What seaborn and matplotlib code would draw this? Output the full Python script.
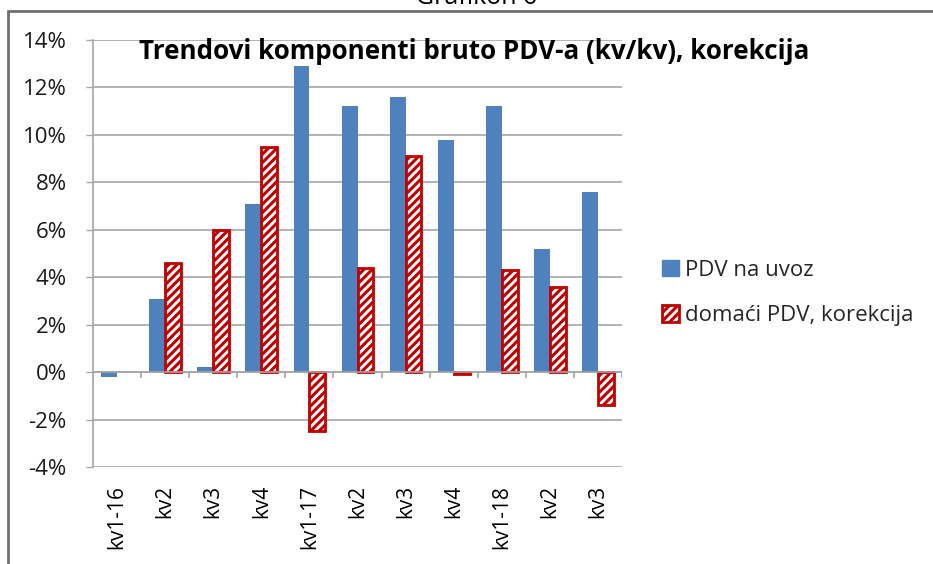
import numpy as np
import pandas as pd
import matplotlib
matplotlib.use("Agg")
import matplotlib.pyplot as plt
import seaborn as sns
from matplotlib.patches import Rectangle, Patch
from matplotlib.ticker import PercentFormatter

categories = ["kv1-16", "kv2", "kv3", "kv4", "kv1-17", "kv2", "kv3", "kv4",
              "kv1-18", "kv2", "kv3"]
pdv_uvoz = [-0.2, 3.1, 0.2, 7.1, 12.9, 11.2, 11.6, 9.8, 11.2, 5.2, 7.6]
domaci_pdv = [0.0, 4.6, 6.0, 9.5, -2.5, 4.4, 9.1, -0.1, 4.3, 3.6, -1.4]
series_names = ["PDV na uvoz", "domaći PDV, korekcija"]
title = "Trendovi komponenti bruto PDV-a (kv/kv), korekcija"
header = "Grafikon 6"

sns.set_theme(style="white")
plt.rcParams["font.family"] = ["Open Sans", "DejaVu Sans"]
plt.rcParams["hatch.linewidth"] = 2.2
plt.rcParams["axes.unicode_minus"] = False

BLUE = "#4F81BD"
RED = "#C00000"
GRID = "#A6A6A6"

n = len(categories)
pos = list(range(n))
df = pd.DataFrame({
    "pos": pos * 2,
    "value": pdv_uvoz + domaci_pdv,
    "series": [series_names[0]] * n + [series_names[1]] * n,
})

fig = plt.figure(figsize=(9.33, 5.64), dpi=100)
ax = fig.add_axes([93 / 933, 1 - 467 / 564, (622 - 93) / 933, (467 - 40) / 564])

sns.barplot(data=df, x="pos", y="value", hue="series", hue_order=series_names,
            palette=[BLUE, "white"], width=0.66, ax=ax, legend=False,
            saturation=1)

for p in ax.containers[1]:
    p.set_facecolor("white")
    p.set_edgecolor(RED)
    p.set_hatch("////")
    p.set_linewidth(2 if p.get_height() != 0 else 0)
for p in ax.containers[0]:
    p.set_linewidth(0)

ax.set_ylim(-4, 14)
ax.set_xlim(-0.5, n - 0.5)
ax.set_yticks(np.arange(-4, 15, 2))
ax.yaxis.set_major_formatter(PercentFormatter(decimals=0))
ax.yaxis.grid(True, color=GRID, linewidth=1.2)
ax.set_axisbelow(True)
ax.set_xticks(pos)
ax.set_xticklabels(categories, rotation=90, va="top")
ax.set_xlabel("")
ax.set_ylabel("")
ax.tick_params(axis="x", length=0, labelsize=15, pad=13, colors="#000000")
ax.tick_params(axis="y", length=5, width=1, color=GRID, labelsize=16,
               pad=14, left=True, labelcolor="#1a1a1a")
for s in ["top", "right", "bottom"]:
    ax.spines[s].set_visible(False)
ax.spines["left"].set_color(GRID)
ax.spines["left"].set_linewidth(1.2)

# category axis at zero with boundary ticks
ax.axhline(0, color=GRID, linewidth=1.2, zorder=1.5)
ax.vlines(np.arange(-0.5, n), -0.25, 0, color=GRID, linewidth=1.2, zorder=1.5)

fig.text(474 / 933, 1 - 59 / 564, title, ha="center", va="baseline",
         fontsize=18.7, fontweight="bold", color="#000000")
fig.text(477 / 933, 1 - 4 / 564, header, ha="center", va="baseline",
         fontsize=18, color="#000000")

fig.patches.append(Rectangle((8 / 933, -0.1), 1.2, 1.1 - 11 / 564,
                             transform=fig.transFigure, fill=False,
                             edgecolor="#6F6F6F", linewidth=2))

handles = [Patch(facecolor=BLUE, edgecolor=BLUE),
           Patch(facecolor="white", edgecolor=RED, hatch="////", linewidth=2)]
fig.legend(handles, series_names, loc="upper left",
           bbox_to_anchor=(653 / 933, 1 - 251 / 564), frameon=False,
           fontsize=16, handlelength=0.75, handleheight=0.75, handletextpad=0.3,
           labelspacing=1.1, borderaxespad=0)

fig.savefig("out.png", dpi=100)
